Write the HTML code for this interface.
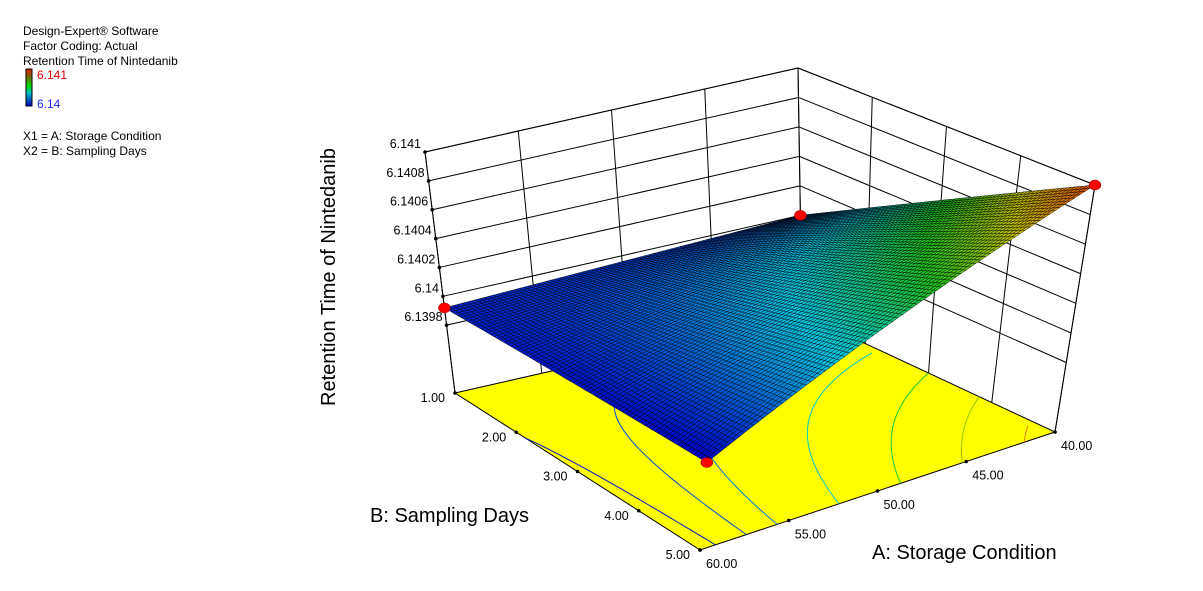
<!DOCTYPE html>
<html><head><meta charset="utf-8">
<style>
body{margin:0;background:#fff;width:1203px;height:591px;overflow:hidden;font-family:"Liberation Sans",Arial,sans-serif}
svg{position:absolute;left:0;top:0}
</style></head>
<body>
<svg id="chart" width="1203" height="591" viewBox="0 0 1203 591" xmlns="http://www.w3.org/2000/svg" font-family="Liberation Sans, Arial, sans-serif">
<defs>
<linearGradient id="cbar" x1="0" y1="1" x2="0" y2="0">
<stop offset="0" stop-color="#0000c0"/><stop offset="0.35" stop-color="#00c0c0"/><stop offset="0.55" stop-color="#00e000"/><stop offset="0.8" stop-color="#806000"/><stop offset="1" stop-color="#e02000"/>
</linearGradient>
</defs>
<g font-size="12" fill="#000">
<text x="23" y="35">Design-Expert® Software</text>
<text x="23" y="50">Factor Coding: Actual</text>
<text x="23" y="65">Retention Time of Nintedanib</text>
<rect x="26" y="69" width="6" height="37" fill="url(#cbar)" stroke="#000" stroke-width="1"/>
<text x="37" y="79" fill="#e00000">6.141</text>
<text x="37" y="108" fill="#2020ff">6.14</text>
<text x="23" y="140">X1 = A: Storage Condition</text>
<text x="23" y="155">X2 = B: Sampling Days</text>
</g>
<g id="plot"></g>
<text transform="translate(335,277) rotate(-90)" text-anchor="middle" font-size="20">Retention Time of Nintedanib</text>
<text x="370" y="522" font-size="20">B: Sampling Days</text>
<text x="872" y="559" font-size="20">A: Storage Condition</text>
</svg>
<script>
const aTicks=[60,55,50,45,40];
const bTicks=[1,2,3,4,5];
const zTicks=[6.1398,6.14,6.1402,6.1404,6.1406,6.1408,6.141];
const zTickLabels=["6.1398","6.14","6.1402","6.1404","6.1406","6.1408","6.141"];
const aTickLabels=["60.00","55.00","50.00","45.00","40.00"];
const bTickLabels=["1.00","2.00","3.00","4.00","5.00"];
const designA=[60,40,60,40];
const designB=[1,1,5,5];
const designZ=[6.13992,6.1400,6.13985,6.1410];
const contourLevels=[6.1399,6.14,6.1401,6.1403,6.1405,6.1407,6.1409];

const NS="http://www.w3.org/2000/svg";
const plot=document.getElementById('plot');
const ZMIN=6.13933,ZMAX=6.141;
const F={p00:[455,393],p10:[802,314],p01:[700,550],p11:[1055,432]};
const T={p00:[425,152],p10:[798,68],p01:[722,269],p11:[1095,185]};
function bil(c,u,v){return [
 c.p00[0]*(1-u)*(1-v)+c.p10[0]*u*(1-v)+c.p01[0]*(1-u)*v+c.p11[0]*u*v,
 c.p00[1]*(1-u)*(1-v)+c.p10[1]*u*(1-v)+c.p01[1]*(1-u)*v+c.p11[1]*u*v];}
function uA(a){return (60-a)/20;}
function vB(b){return (b-1)/4;}
function wZ(z){return (z-ZMIN)/(ZMAX-ZMIN);}
function proj(a,b,z){const u=uA(a),v=vB(b),w=wZ(z);const f=bil(F,u,v),t=bil(T,u,v);return [f[0]+w*(t[0]-f[0]),f[1]+w*(t[1]-f[1])];}
function model(a,b){const u=uA(a),v=vB(b);
 return designZ[0]*(1-u)*(1-v)+designZ[1]*u*(1-v)+designZ[2]*(1-u)*v+designZ[3]*u*v;}
function mk(tag,attrs,parent){const e=document.createElementNS(NS,tag);for(const k in attrs)e.setAttribute(k,attrs[k]);(parent||plot).appendChild(e);return e;}
function pts(arr){return arr.map(p=>p[0].toFixed(1)+','+p[1].toFixed(1)).join(' ');}
function color(t){
 const stops=[[0,[0,0,200]],[0.35,[0,200,230]],[0.6,[30,200,30]],[0.8,[200,200,0]],[1,[240,80,0]]];
 t=Math.max(0,Math.min(1,t));
 for(let i=1;i<stops.length;i++){if(t<=stops[i][0]){const s=stops[i-1],e=stops[i];const f=(t-s[0])/(e[0]-s[0]);
  return 'rgb('+s[1].map((c,j)=>Math.round(c+(e[1][j]-c)*f)).join(',')+')';}}
 return 'rgb(240,80,0)';}
const zLo=Math.min(...designZ),zHi=Math.max(...designZ);

const walls=mk('g',{});


const aMin=Math.min(...aTicks),aMax=Math.max(...aTicks),bMin=Math.min(...bTicks),bMax=Math.max(...bTicks);
zTicks.forEach((z,i)=>{const l=mk('line',{},walls);const p=proj(aMax,bMin,z),q=proj(aMin,bMin,z);
 l.setAttribute('x1',p[0]);l.setAttribute('y1',p[1]);l.setAttribute('x2',q[0]);l.setAttribute('y2',q[1]);l.setAttribute('stroke','#000');
 
 const r=proj(aMin,bMax,z);const l2=mk('line',{x1:q[0],y1:q[1],x2:r[0],y2:r[1],stroke:'#000'},walls);
 });
aTicks.forEach(a=>{const p=proj(a,bMin,ZMIN),q=proj(a,bMin,ZMAX);const l=mk('line',{x1:p[0],y1:p[1],x2:q[0],y2:q[1],stroke:'#000'},walls);
 });
bTicks.forEach(b=>{const p=proj(aMin,b,ZMIN),q=proj(aMin,b,ZMAX);const l=mk('line',{x1:p[0],y1:p[1],x2:q[0],y2:q[1],stroke:'#000'},walls);
 });
[[[aMax,bMin],[aMin,bMin]],[[aMin,bMin],[aMin,bMax]]].forEach(e=>{const p=proj(e[0][0],e[0][1],ZMAX),q=proj(e[1][0],e[1][1],ZMAX);
 const l=mk('line',{x1:p[0],y1:p[1],x2:q[0],y2:q[1],stroke:'#000'},walls);});

const floor=mk('polygon',{points:pts([proj(aMax,bMin,ZMIN),proj(aMin,bMin,ZMIN),proj(aMin,bMax,ZMIN),proj(aMax,bMax,ZMIN)]),fill:'#ffff00',stroke:'#000','stroke-width':1});


const cg=mk('g',{});


const N=40;
contourLevels.forEach(L=>{
 let d='';
 for(let i=0;i<N;i++)for(let j=0;j<N;j++){
  const a0=aMax-(aMax-aMin)*i/N,a1=aMax-(aMax-aMin)*(i+1)/N,b0=bMin+(bMax-bMin)*j/N,b1=bMin+(bMax-bMin)*(j+1)/N;
  const c=[[a0,b0],[a1,b0],[a1,b1],[a0,b1]];const vals=c.map(p=>model(p[0],p[1]));const cross=[];
  for(let k=0;k<4;k++){const m=(k+1)%4;const va=vals[k],vb=vals[m];
   if((va-L)*(vb-L)<0){const f=(L-va)/(vb-va);cross.push([c[k][0]+(c[m][0]-c[k][0])*f,c[k][1]+(c[m][1]-c[k][1])*f]);}}
  if(cross.length>=2){const p=proj(cross[0][0],cross[0][1],ZMIN),q=proj(cross[1][0],cross[1][1],ZMIN);d+='M'+p[0].toFixed(1)+' '+p[1].toFixed(1)+'L'+q[0].toFixed(1)+' '+q[1].toFixed(1);}
 }
 if(d){const pth=mk('path',{d:d,stroke:color((L-zLo)/(zHi-zLo)),fill:'none','stroke-width':1},cg);
  }
});

const ax=mk('g',{'font-size':12.5,fill:'#000'});


const zl=mk('line',{},ax);
{const p=proj(aMax,bMin,ZMIN),q=proj(aMax,bMin,ZMAX);zl.setAttribute('x1',p[0]);zl.setAttribute('y1',p[1]);zl.setAttribute('x2',q[0]);zl.setAttribute('y2',q[1]);zl.setAttribute('stroke','#000');}


zTicks.forEach((z,i)=>{const p=proj(aMax,bMin,z);
 const c=mk('circle',{cx:p[0],cy:p[1],r:1.8,fill:'#000'},ax);
 const t=mk('text',{x:p[0]-4,y:p[1]-4,'text-anchor':'end'},ax);t.textContent=zTickLabels[i];});
bTicks.forEach((b,i)=>{const p=proj(aMax,b,ZMIN);
 const c=mk('circle',{cx:p[0],cy:p[1],r:1.8,fill:'#000'},ax);
 const t=mk('text',{x:p[0]-10,y:p[1]+9,'text-anchor':'end'},ax);t.textContent=bTickLabels[i];});
aTicks.forEach((a,i)=>{const p=proj(a,bMax,ZMIN);
 const c=mk('circle',{cx:p[0],cy:p[1],r:1.8,fill:'#000'},ax);
 const t=mk('text',{x:p[0]+6,y:p[1]+18},ax);t.textContent=aTickLabels[i];});
{const p=proj(aMin,bMax,ZMIN),q=proj(aMin,bMax,ZMAX);const l=mk('line',{x1:p[0],y1:p[1],x2:q[0],y2:q[1],stroke:'#000'});
 }

const sg=mk('g',{stroke:'#000','stroke-width':0.5,'stroke-opacity':0.85});


const M=80;
for(let i=0;i<M;i++)for(let j=M-1;j>=0;j--){
 const a0=aMax-(aMax-aMin)*i/M,a1=aMax-(aMax-aMin)*(i+1)/M,b0=bMin+(bMax-bMin)*j/M,b1=bMin+(bMax-bMin)*(j+1)/M;
 const zc=model((a0+a1)/2,(b0+b1)/2);
 const q=mk('polygon',{points:pts([proj(a0,b0,model(a0,b0)),proj(a1,b0,model(a1,b0)),proj(a1,b1,model(a1,b1)),proj(a0,b1,model(a0,b1))]),fill:color((zc-zLo)/(zHi-zLo))},sg);
 
 
}
designA.forEach((a,i)=>{const p=proj(a,designB[i],designZ[i]);
 const c=mk('ellipse',{cx:p[0],cy:p[1],rx:6,ry:5,fill:'#ff0000',stroke:'#800000','stroke-width':0.5});
 });
</script>
</body></html>
